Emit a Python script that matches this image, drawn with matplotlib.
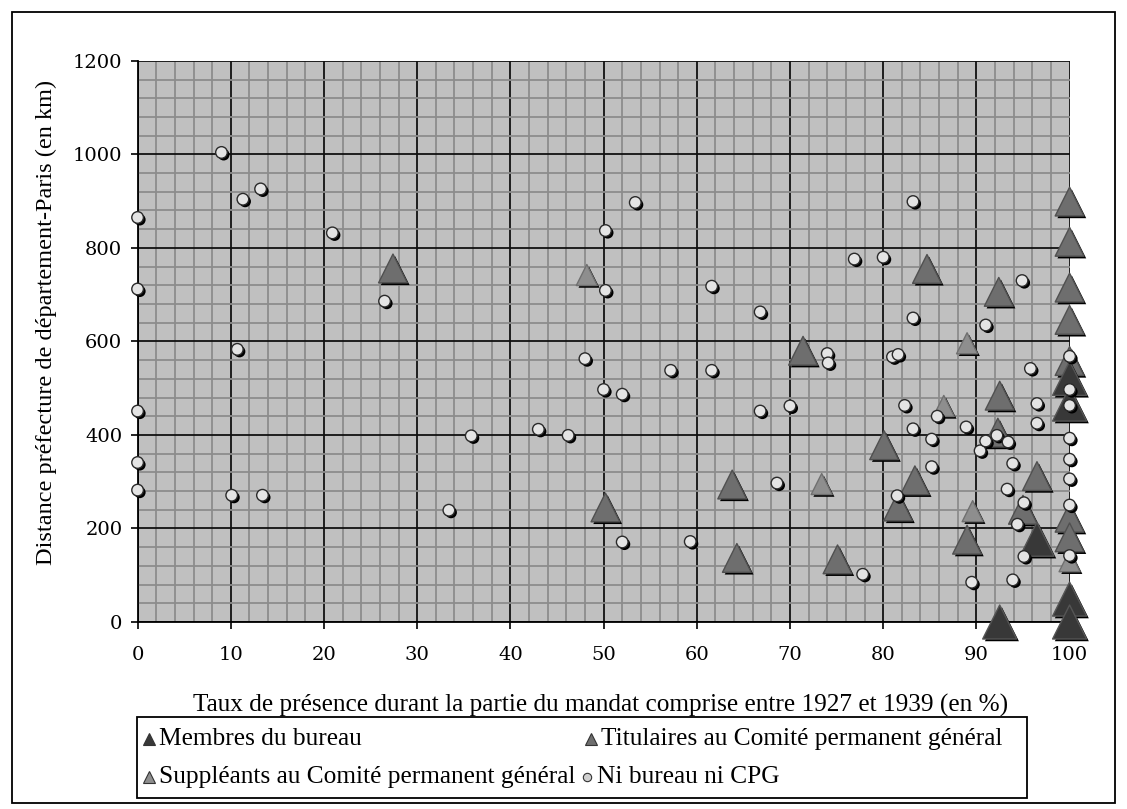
import matplotlib.pyplot as plt
import matplotlib.patheffects as pe
from matplotlib.patches import Rectangle
from matplotlib.lines import Line2D
from matplotlib.ticker import MultipleLocator

# Ni bureau ni CPG
autres_x = [0, 0, 0, 0, 0, 9, 11.3, 13.2, 10.7, 10.1, 13.4, 20.9, 26.5, 33.4, 35.8, 43, 46.2,
            48, 50.2, 50.2, 53.4, 50, 52, 57.2, 61.6, 61.6, 66.8, 52, 59.3, 66.8, 70, 68.6,
            77.8, 76.9, 80, 74, 74.1, 83.2, 83.2, 81, 81.6, 91, 94.9, 95.8, 82.3, 83.2, 85.2,
            85.8, 85.2, 81.5, 88.9, 89.5, 90.4, 91, 92.2, 93.4, 93.9, 93.3, 95.1, 94.4, 95.1,
            93.9, 96.5, 96.5, 100, 100, 100, 100, 100, 100, 100, 100]
autres_y = [865, 712, 451, 341, 282, 1004, 904, 926, 583, 271, 271, 832, 686, 239, 398, 412, 399,
            563, 709, 837, 897, 497, 487, 538, 538, 718, 663, 171, 172, 451, 462, 297,
            102, 776, 780, 574, 554, 650, 899, 567, 572, 635, 730, 542, 463, 413, 391,
            440, 332, 270, 417, 85, 366, 387, 399, 385, 339, 284, 255, 209, 140,
            90, 467, 425, 568, 497, 463, 393, 348, 306, 250, 142]

# Membres du bureau
bureau_x = [92.5, 96.5, 100, 100, 100, 100]
bureau_y = [0, 177, 49, 0, 521, 466]

# Titulaires au Comite permanent general
titul_x = [27.4, 50.2, 63.8, 64.3, 71.4, 75.1, 80.1, 84.7, 83.4, 81.6, 92.4, 89, 92.5, 92.3,
           96.5, 95, 100, 100, 100, 100, 100, 100, 100]
titul_y = [756, 245, 294, 137, 580, 134, 378, 755, 303, 247, 706, 176, 484, 405,
           312, 240, 899, 813, 715, 646, 558, 223, 181]

# Suppleants au Comite permanent general
suppl_x = [48.2, 73.4, 86.5, 89, 89.6, 100]
suppl_y = [742, 295, 462, 596, 237, 130]

W, H = 1127, 809
fig = plt.figure(figsize=(W / 100, H / 100), dpi=100)
ax = fig.add_axes([137.6 / W, 1 - 622 / H, 932 / W, 561.2 / H])
ax.set_facecolor('#c0c0c0')
ax.set_xlim(0, 100)
ax.set_ylim(0, 1200)
ax.xaxis.set_major_locator(MultipleLocator(10))
ax.xaxis.set_minor_locator(MultipleLocator(2))
ax.yaxis.set_major_locator(MultipleLocator(200))
ax.yaxis.set_minor_locator(MultipleLocator(40))
ax.grid(which='minor', color='#8c8c8c', lw=1.3)
ax.grid(which='major', color='#111111', lw=1.3)
ax.set_axisbelow(True)
ax.tick_params(which='minor', length=0)
ax.tick_params(which='major', direction='out', length=5, width=1.2, pad=6, labelsize=14)
ax.tick_params(axis='x', pad=12)
for lab in ax.get_xticklabels() + ax.get_yticklabels():
    lab.set_family('DejaVu Serif')
for s in ['top', 'right']:
    ax.spines[s].set_visible(False)
for s in ['left', 'bottom']:
    ax.spines[s].set_linewidth(1.3)

shadow = [pe.SimplePatchShadow(offset=(1.6, -1.6), shadow_rgbFace='black', alpha=1.0), pe.Normal()]

ax.scatter(titul_x, titul_y, s=430, marker='^', facecolor='#6e6e6e', edgecolor='#505050',
           lw=1, clip_on=False, zorder=3, path_effects=shadow)
ax.scatter(suppl_x, suppl_y, s=230, marker='^', facecolor='#8e8e8e', edgecolor='#707070',
           lw=1, clip_on=False, zorder=3, path_effects=shadow)
ax.scatter(bureau_x, bureau_y, s=600, marker='^', facecolor='#383838', edgecolor='#555555',
           lw=1, clip_on=False, zorder=4, path_effects=shadow)
ax.scatter(autres_x, autres_y, s=70, marker='o', facecolor='#e4e4e4', edgecolor='#2a2a2a',
           lw=1, clip_on=False, zorder=5, path_effects=shadow)

fig.text(46 / W, 1 - 322 / H, 'Distance préfecture de département-Paris (en km)',
         rotation=90, ha='center', va='center', family='Liberation Serif', fontsize=17.5)
fig.text(601 / W, 1 - 705 / H, 'Taux de présence durant la partie du mandat comprise entre 1927 et 1939 (en %)',
         ha='center', va='center', family='Liberation Serif', fontsize=18.2)

# legende
fig.patches.append(Rectangle((137 / W, 1 - 798 / H), (1027 - 137) / W, 81 / H,
                             transform=fig.transFigure, fill=False, ec='black', lw=1.3))
items = [(149, 739, 'Membres du bureau', '#383838', '^'),
         (591, 739, 'Titulaires au Comité permanent général', '#6e6e6e', '^'),
         (149, 777, 'Suppléants au Comité permanent général', '#8e8e8e', '^'),
         (587, 777, 'Ni bureau ni CPG', '#d0d0d0', 'o')]
for px, py, txt, col, mk in items:
    fig.add_artist(Line2D([px / W], [1 - py / H], transform=fig.transFigure, marker=mk,
                          ms=9 if mk == '^' else 6, mfc=col, mec='#333333', mew=0.8, ls=''))
    fig.text((px + 10) / W, 1 - py / H, txt, ha='left', va='center',
             family='Liberation Serif', fontsize=18.3)

# cadre
fig.patches.append(Rectangle((12 / W, 1 - 803 / H), (1115 - 12) / W, (803 - 12) / H,
                             transform=fig.transFigure, fill=False, ec='black', lw=1.3))

fig.savefig('out.png', dpi=100)
